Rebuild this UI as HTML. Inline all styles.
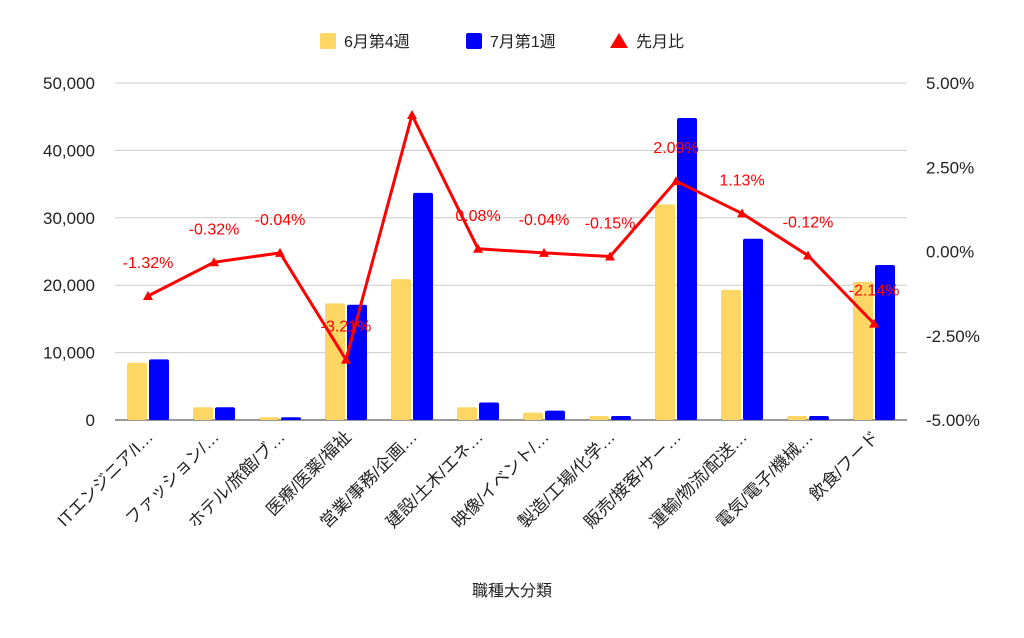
<!DOCTYPE html>
<html><head><meta charset="utf-8"><style>
body{margin:0;background:#fff;}
svg text{font-family:"Liberation Sans","Noto Sans CJK JP",sans-serif;}
</style></head><body>
<svg id="c" width="1024" height="633" xmlns="http://www.w3.org/2000/svg">
<rect width="1024" height="633" fill="#fff"/>
<g id="legend">
 <rect x="320" y="33" width="16" height="16" rx="2" fill="#fdd663"/>
 <text x="344" y="47" font-size="16" fill="#222">6月第4週</text>
 <rect x="466" y="33" width="16" height="16" rx="2" fill="#0000ff"/>
 <text x="490" y="47" font-size="16" fill="#222">7月第1週</text>
 <path d="M610,48 L619,33 L628,48 Z" fill="#ff0000"/>
 <text x="636" y="47" font-size="16" fill="#222">先月比</text>
</g>
<g id="grid"></g><g id="bars"></g><g id="line"></g><g id="labels"></g><g id="xlab"></g>
<text x="512" y="596" font-size="16" fill="#222" text-anchor="middle">職種大分類</text>
</svg>
<script>
const categories=["ITエンジニア/I…","ファッション/…","ホテル/旅館/ブ…","医療/医薬/福祉","営業/事務/企画…","建設/土木/エネ…","映像/イベント/…","製造/工場/化学…","販売/接客/サー…","運輸/物流/配送…","電気/電子/機械…","飲食/フード"];
const june=[8500,1900,400,17300,20900,1900,1100,600,32000,19300,600,20500];
const july=[9000,1900,400,17100,33700,2600,1400,600,44800,26900,600,23000];
const ratio=[-1.32,-0.32,-0.04,-3.21,4.05,0.08,-0.04,-0.15,2.09,1.13,-0.12,-2.14];
const leftTicks=[0,10000,20000,30000,40000,50000];
const rightTicks=[-5,-2.5,0,2.5,5];
const NS="http://www.w3.org/2000/svg";
const X0=115,X1=907,Y0=420,Y1=83;
const yL=v=>Y0-(v/50000)*(Y0-Y1);
const yR=v=>Y0-((v+5)/10)*(Y0-Y1);
const step=(X1-X0)/categories.length;
const xC=i=>X0+step*(i+0.5);
function mk(t,a,p){const e=document.createElementNS(NS,t);for(const k in a)e.setAttribute(k,a[k]);document.getElementById(p).appendChild(e);return e;}
leftTicks.forEach(v=>{
 const l=mk('line',{x1:X0,x2:X1,y1:yL(v),y2:yL(v),stroke:v===0?'#333':'#ccc','stroke-width':1},'grid');
 
 
 const t=mk('text',{x:95,y:yL(v)+6,'font-size':17,fill:'#222','text-anchor':'end'},'grid');
 t.textContent=v.toLocaleString('en-US');
 
 
});
rightTicks.forEach(v=>{
 const t=mk('text',{x:926,y:yR(v)+6,'font-size':17,fill:'#222'},'grid');
 t.textContent=v.toFixed(2)+'%';
 
 
});
const bw=20;
categories.forEach((c,i)=>{
 const b1=mk('rect',{x:xC(i)-bw-1,y:yL(june[i]),width:bw,height:Y0-yL(june[i]),fill:'#fdd663',rx:2},'bars');
 
 
 const b2=mk('rect',{x:xC(i)+1,y:yL(july[i]),width:bw,height:Y0-yL(july[i]),fill:'#0000ff',rx:2},'bars');
 
 
 const t=mk('text',{transform:`translate(${xC(i)+6},${438}) rotate(-45)`,'font-size':17,fill:'#222','text-anchor':'end'},'xlab');
 t.textContent=c;
 
 
});
const pl=mk('polyline',{points:ratio.map((v,i)=>xC(i)+','+yR(v)).join(' '),fill:'none',stroke:'#ff0000','stroke-width':3,'stroke-linejoin':'round'},'line');


ratio.forEach((v,i)=>{
 const x=xC(i),y=yR(v);
 const p=mk('path',{d:`M${x-5},${y+4} L${x},${y-5} L${x+5},${y+4} Z`,fill:'#ff0000'},'line');
 
 
 if(y-37>80){
  const lt=mk('text',{x:x,y:y-28,'font-size':16,fill:'#ff0000','text-anchor':'middle'},'labels');
  lt.textContent=v.toFixed(2)+'%';
  
  
 }
});
</script>
</body></html>
